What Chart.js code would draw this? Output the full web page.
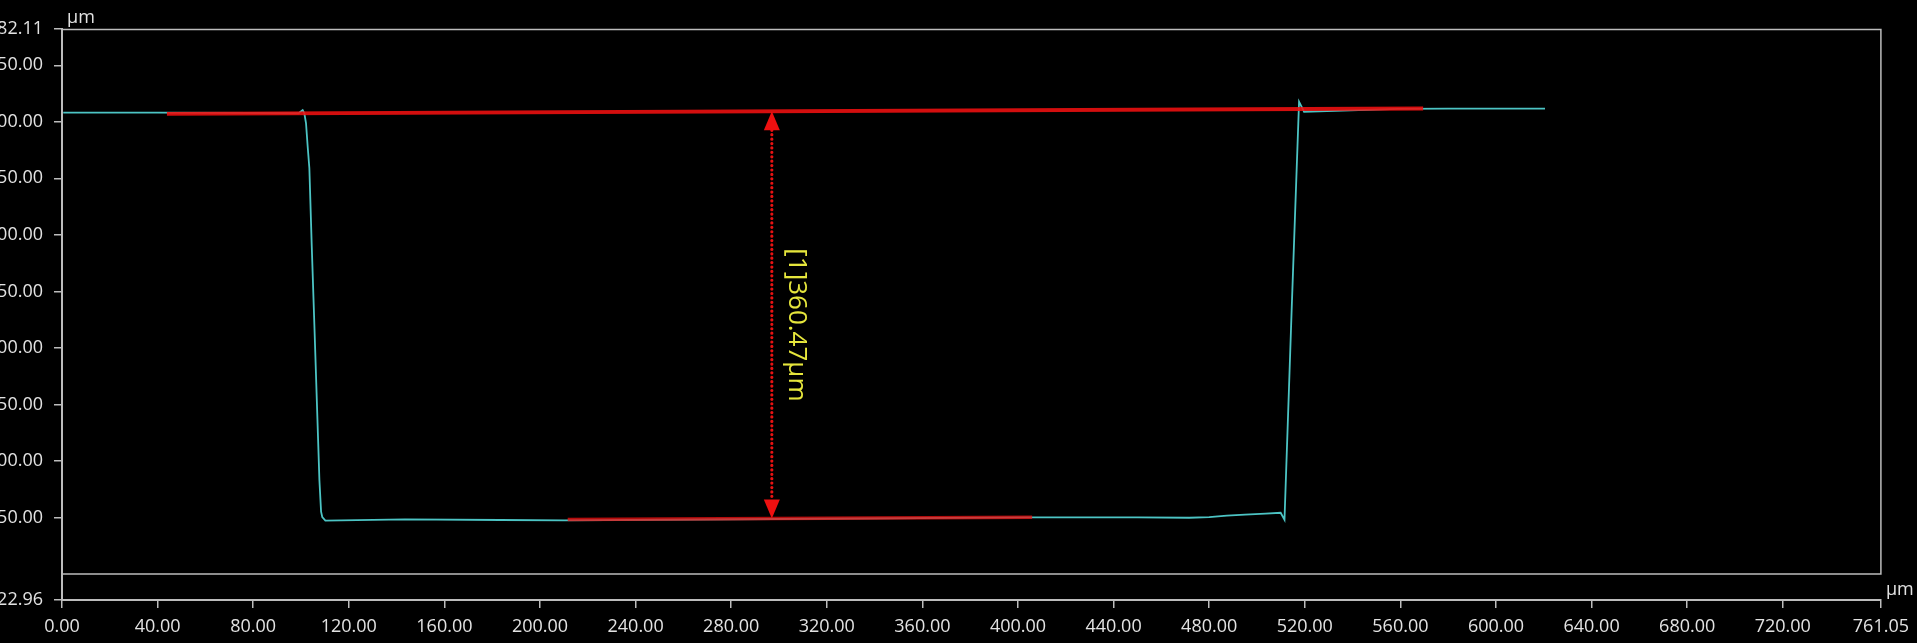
<!DOCTYPE html>
<html>
<head>
<meta charset="utf-8">
<script src="https://cdn.jsdelivr.net/npm/chart.js"></script>
<style>
  html, body { margin: 0; padding: 0; background: #000; overflow: hidden; }
  #wrap { position: absolute; left: -38px; top: 0; width: 1955px; height: 643px; }
</style>
</head>
<body>
<div id="wrap"><canvas id="profile"></canvas></div>
<script>
// 轮廓曲线 (µm)
const profileX = [0.5, 40, 80, 99, 100.7, 101.4, 102.1, 102.8, 103.5, 104.5, 105.6, 107.7, 108.4, 108.9, 110.2,
    143.5, 183.5, 210.2, 298.2, 404.9, 450.2, 471.6, 480, 487.4, 495, 503.6, 509.9, 511.5, 514.5, 517.6, 519.7,
    526, 559, 580, 620.5];
const profileY = [408.1, 408.1, 407.8, 407.6, 410.4, 407.5, 398.7, 378, 358.9, 290, 220, 83.2, 55.1, 50.4, 47.3,
    48.4, 47.8, 47.5, 48.7, 50.2, 50.2, 49.8, 50.4, 51.6, 52.6, 53.4, 54.2, 48.0, 233.5, 417.8, 408.9,
    409.3, 411.5, 411.6, 411.6];

// 拟合参考线
const refTopX = [43.9, 569.5];
const refTopY = [407.0, 411.8];
const refBottomX = [211.6, 405.9];
const refBottomY = [48.3, 50.3];

// 测量标注
const measureX = 297.0;
const measureTop = 409.3;
const measureBottom = 49.2;
const measureLabel = '[1]360.47µm';

// 坐标轴刻度
const xTicks = [0, 40, 80, 120, 160, 200, 240, 280, 320, 360, 400, 440, 480, 520, 560, 600, 640, 680, 720, 761.05];
const yTicks = [-22.96, 50, 100, 150, 200, 250, 300, 350, 400, 450, 482.11];
const unitLabel = 'µm';

const axisColor = '#bcbcbc';
const labelColor = '#e2e2e2';
const fontFamily = '"Open Sans", "Noto Sans", sans-serif';

const toPoints = (xs, ys) => xs.map((x, i) => ({ x: x, y: ys[i] }));

// 边框、单位与测量箭头
const overlayPlugin = {
    id: 'overlay',
    beforeDatasetsDraw(chart) {
        const { ctx, chartArea, scales } = chart;
        const y0 = scales.y.getPixelForValue(0);
        ctx.save();
        ctx.strokeStyle = axisColor;
        ctx.lineWidth = 1.5;
        ctx.beginPath();
        ctx.moveTo(chartArea.left, chartArea.top + 0.5);
        ctx.lineTo(chartArea.right, chartArea.top + 0.5);
        ctx.lineTo(chartArea.right, y0);
        ctx.lineTo(chartArea.left, y0);
        ctx.stroke();

        ctx.fillStyle = labelColor;
        ctx.font = '18px ' + fontFamily;
        ctx.textBaseline = 'alphabetic';
        ctx.textAlign = 'left';
        ctx.fillText(unitLabel, chartArea.left + 5, 23);
        ctx.fillText(unitLabel, chartArea.right + 5, 595);
        ctx.restore();
    },
    afterDatasetsDraw(chart) {
        const { ctx, scales } = chart;
        const px = scales.x.getPixelForValue(measureX);
        const top = scales.y.getPixelForValue(measureTop);
        const bottom = scales.y.getPixelForValue(measureBottom);
        const head = 19, half = 8;
        ctx.save();
        ctx.strokeStyle = '#e81212';
        ctx.fillStyle = '#ee1010';
        ctx.lineWidth = 3.2;
        ctx.lineCap = 'round';
        ctx.setLineDash([0.01, 4.4]);
        ctx.beginPath();
        ctx.moveTo(px, top + head);
        ctx.lineTo(px, bottom - head);
        ctx.stroke();
        ctx.setLineDash([]);

        ctx.beginPath();
        ctx.moveTo(px, top);
        ctx.lineTo(px - half, top + head);
        ctx.lineTo(px + half, top + head);
        ctx.closePath();
        ctx.fill();

        ctx.beginPath();
        ctx.moveTo(px, bottom);
        ctx.lineTo(px - half, bottom - head);
        ctx.lineTo(px + half, bottom - head);
        ctx.closePath();
        ctx.fill();

        ctx.translate(px + 25, (top + bottom) / 2 + 10);
        ctx.rotate(Math.PI / 2);
        ctx.fillStyle = '#e6e63c';
        ctx.font = '26px ' + fontFamily;
        ctx.textAlign = 'center';
        ctx.textBaseline = 'middle';
        ctx.fillText(measureLabel, 0, 0);
        ctx.restore();
    }
};

new Chart(document.getElementById('profile'), {
    type: 'line',
    data: {
        datasets: [
            {
                data: toPoints(refTopX, refTopY),
                borderColor: 'rgba(240, 16, 16, 0.88)',
                borderWidth: 3.8,
                order: 0
            },
            {
                data: toPoints(refBottomX, refBottomY),
                borderColor: 'rgba(240, 16, 16, 0.75)',
                borderWidth: 3.5,
                order: 0
            },
            {
                data: toPoints(profileX, profileY),
                borderColor: '#4cc4c4',
                borderWidth: 1.8,
                order: 1
            }
        ]
    },
    options: {
        responsive: true,
        maintainAspectRatio: false,
        animation: false,
        layout: { padding: { top: 29, right: 34, bottom: 0, left: 0 } },
        elements: { point: { radius: 0 }, line: { tension: 0 } },
        plugins: { legend: { display: false }, tooltip: { enabled: false } },
        scales: {
            x: {
                type: 'linear',
                min: 0,
                max: 761.05,
                afterBuildTicks: (scale) => { scale.ticks = xTicks.map(v => ({ value: v })); },
                afterFit: (scale) => { scale.height = 43; },
                border: { display: true, color: axisColor, width: 2 },
                grid: { drawOnChartArea: false, drawTicks: true, tickLength: 8, color: axisColor, lineWidth: 1.5 },
                ticks: {
                    autoSkip: false,
                    maxRotation: 0,
                    padding: 8,
                    color: labelColor,
                    font: { family: fontFamily, size: 18 },
                    callback: (v) => Number(v).toFixed(2)
                }
            },
            y: {
                type: 'linear',
                min: -22.96,
                max: 482.11,
                afterBuildTicks: (scale) => { scale.ticks = yTicks.map(v => ({ value: v })); },
                afterFit: (scale) => { scale.width = 100; },
                border: { display: true, color: axisColor, width: 2 },
                grid: { drawOnChartArea: false, drawTicks: true, tickLength: 8, color: axisColor, lineWidth: 1.5 },
                ticks: {
                    autoSkip: false,
                    padding: 11,
                    color: labelColor,
                    font: { family: fontFamily, size: 18 },
                    callback: (v) => Number(v).toFixed(2)
                }
            }
        }
    },
    plugins: [overlayPlugin]
});
</script>
</body>
</html>
